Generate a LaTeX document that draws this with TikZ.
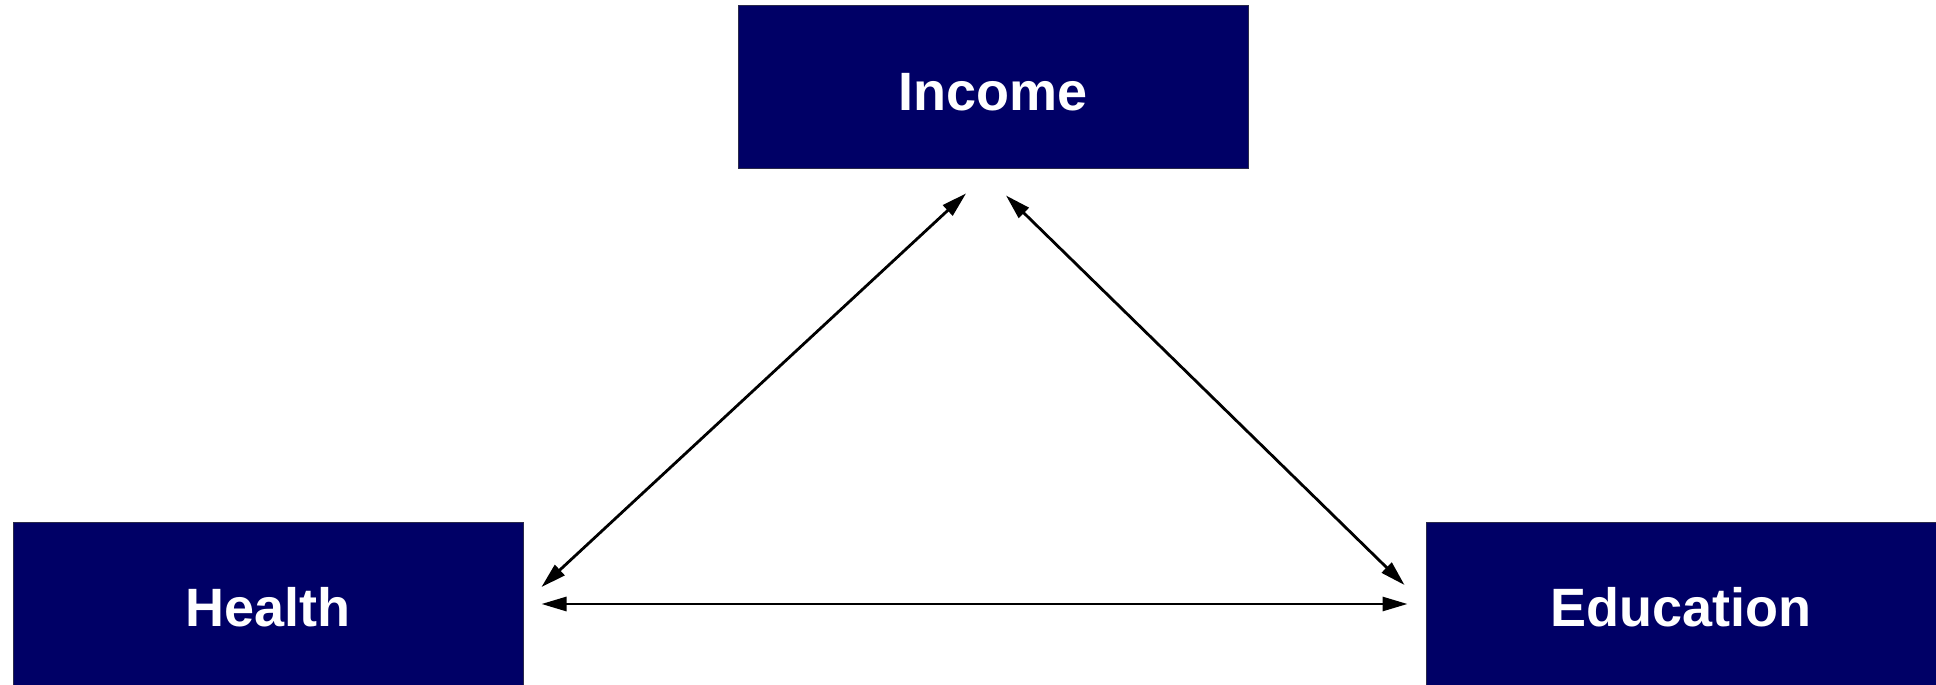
\documentclass[tikz,border=0pt]{standalone}
\usepackage{fontspec}
\setmainfont{Liberation Sans}
\usepackage{tikz}
\usetikzlibrary{arrows.meta,positioning}
\definecolor{navy}{HTML}{000066}
\definecolor{edge}{HTML}{2A2A4A}

\begin{document}
\begin{tikzpicture}[
  x=1pt,y=1pt,
  every node/.style={font=\fontsize{54}{60}\selectfont\bfseries},
  factor/.style={rectangle,draw=edge,line width=1pt,fill=navy,text=white,
    minimum width=510pt,minimum height=163pt,inner sep=0pt,
    text height=46pt,text depth=0pt},
  link/.style={line width=2.8pt,color=black,{Triangle[length=25pt,width=14pt]}-{Triangle[length=25pt,width=14pt]}}
]
\useasboundingbox (0,0) rectangle (1936,685);
\node[factor] (income) at (993,597.5) {Income};
\node[factor] (health) at (268,81) {Health};
\node[factor] (education) at (1681,81) {Education};
\draw[link] ([xshift=18,yshift=17]health.east) -- ([xshift=-27,yshift=-24]income.south);
\draw[link] ([xshift=13,yshift=-26]income.south) -- ([xshift=-21,yshift=19]education.west);
\draw[link] ([xshift=18]health.east) -- ([xshift=-18]education.west);
\end{tikzpicture}
\end{document}
